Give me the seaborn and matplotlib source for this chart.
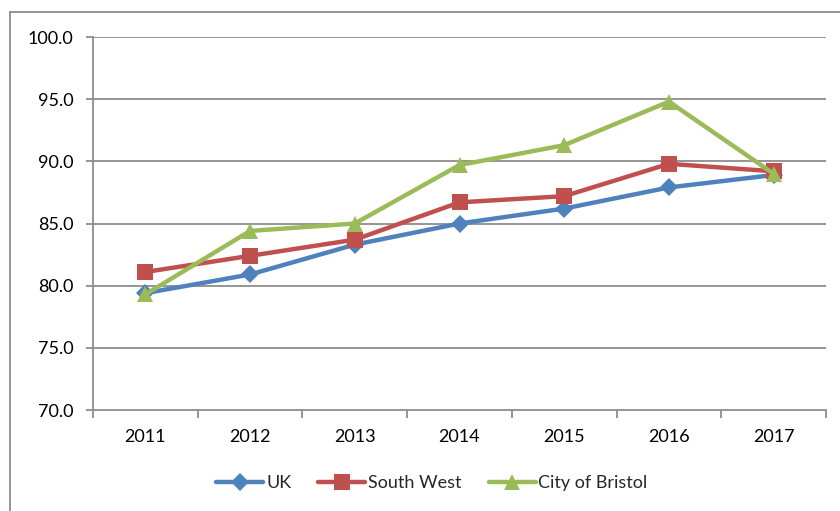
import matplotlib
matplotlib.use("Agg")
import matplotlib.pyplot as plt
from matplotlib.patches import Rectangle
from matplotlib.ticker import FixedLocator, NullFormatter
import numpy as np
import pandas as pd
import seaborn as sns

years = [2011, 2012, 2013, 2014, 2015, 2016, 2017]
uk = [79.4, 80.9, 83.3, 85.0, 86.2, 87.9, 88.9]
south_west = [81.1, 82.4, 83.7, 86.7, 87.2, 89.8, 89.2]
bristol = [79.3, 84.4, 85.0, 89.7, 91.3, 94.8, 89.0]
series_names = ["UK", "South West", "City of Bristol"]
y_ticks = [70.0, 75.0, 80.0, 85.0, 90.0, 95.0, 100.0]

df = pd.DataFrame({
    "year": years * 3,
    "value": uk + south_west + bristol,
    "series": [n for n in series_names for _ in years],
})

sns.set_theme(style="white")
plt.rcParams["font.family"] = ["Lato", "DejaVu Sans"]

palette = {"UK": "#4F81BD", "South West": "#C0504D", "City of Bristol": "#9BBB59"}
markers = {"UK": "D", "South West": "s", "City of Bristol": "^"}
sizes = {"UK": 9, "South West": 11, "City of Bristol": 12}

fig = plt.figure(figsize=(8.4, 5.11), dpi=100)
ax = fig.add_axes([93 / 840, 1 - 410 / 511, (826 - 93) / 840, (410 - 37) / 511])

grid_c = "#8c8c8c"
for yv in y_ticks[1:]:
    ax.axhline(yv, color=grid_c, lw=1.3, zorder=0)

for name in series_names:
    sub = df[df["series"] == name]
    sns.lineplot(data=sub, x="year", y="value", ax=ax, color=palette[name],
                 marker=markers[name], markersize=sizes[name], markeredgewidth=0,
                 linewidth=3.2, label=name, zorder=3)

ax.set_xlim(2010.5, 2017.5)
ax.set_ylim(70, 100)
ax.set_yticks(y_ticks)
ax.set_yticklabels([f"{v:.1f}" for v in y_ticks])
ax.set_xticks(years)
ax.set_xticklabels([str(y) for y in years])
ax.xaxis.set_minor_locator(FixedLocator(np.arange(2010.5, 2018, 1.0)))
ax.xaxis.set_minor_formatter(NullFormatter())
ax.tick_params(axis="x", which="major", length=0, pad=14, labelsize=13, colors="black")
ax.tick_params(axis="x", which="minor", length=6, width=1.3, color=grid_c, direction="out", bottom=True)
ax.tick_params(axis="y", which="major", length=5, width=1.3, color=grid_c, direction="out", left=True,
               labelsize=13, labelcolor="black", pad=9)
ax.set_xlabel("")
ax.set_ylabel("")
for side in ["top", "right"]:
    ax.spines[side].set_visible(False)
for side in ["left", "bottom"]:
    ax.spines[side].set_color(grid_c)
    ax.spines[side].set_linewidth(1.3)

handles, labels = ax.get_legend_handles_labels()
if ax.legend_:
    ax.legend_.remove()
fig.legend(handles, labels, loc="center", bbox_to_anchor=(432 / 840, 1 - 483 / 511),
           ncol=3, frameon=False, fontsize=13, handlelength=2.6, handletextpad=0.15,
           columnspacing=1.5)

# outer chart border
fig.patches.append(Rectangle((10 / 840, -0.05), 1.0, 1 - 12 / 511 + 0.05,
                             transform=fig.transFigure, fill=False,
                             edgecolor="#8c8c8c", lw=1.3))

fig.savefig("out.png", dpi=100)
